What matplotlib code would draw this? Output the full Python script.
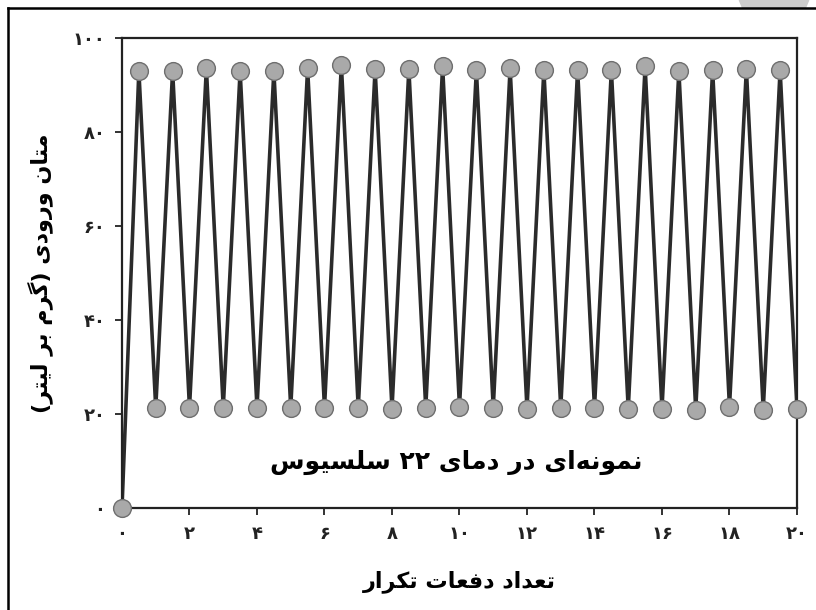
import matplotlib
matplotlib.use("Agg")
import matplotlib.pyplot as plt
from matplotlib.patches import Circle, Rectangle
from matplotlib.lines import Line2D

# data
x_vals = [i * 0.5 for i in range(41)]
peaks = [93.0, 93.0, 93.6, 93.0, 93.0, 93.6, 94.3, 93.4, 93.4, 94.0,
         93.2, 93.6, 93.2, 93.2, 93.2, 94.0, 93.0, 93.2, 93.4, 93.2]
troughs = [21.3, 21.3, 21.3, 21.3, 21.3, 21.3, 21.3, 21.1, 21.3, 21.5,
           21.3, 21.1, 21.3, 21.3, 21.1, 21.1, 20.9, 21.5, 20.9, 21.1]
y_vals = [0.0]
for p, t in zip(peaks, troughs):
    y_vals += [p, t]

x_ticks = [0, 2, 4, 6, 8, 10, 12, 14, 16, 18, 20]
y_ticks = [0, 20, 40, 60, 80, 100]
x_label = "تعداد دفعات تکرار"
y_label = "متان ورودی (گرم بر لیتر)"
note = "نمونه\u200cای در دمای ۲۲ سلسیوس"

# simple arabic/persian shaping, since matplotlib does not shape text
# letter: (isolated, final, initial, medial); two forms = right-joining only
FORMS = {
    'ا': ('\uFE8D', '\uFE8E'),
    'د': ('\uFEA9', '\uFEAA'),
    'ر': ('\uFEAD', '\uFEAE'),
    'و': ('\uFEED', '\uFEEE'),
    'ب': ('\uFE8F', '\uFE90', '\uFE91', '\uFE92'),
    'ت': ('\uFE95', '\uFE96', '\uFE97', '\uFE98'),
    'س': ('\uFEB1', '\uFEB2', '\uFEB3', '\uFEB4'),
    'ع': ('\uFEC9', '\uFECA', '\uFECB', '\uFECC'),
    'ف': ('\uFED1', '\uFED2', '\uFED3', '\uFED4'),
    'ل': ('\uFEDD', '\uFEDE', '\uFEDF', '\uFEE0'),
    'م': ('\uFEE1', '\uFEE2', '\uFEE3', '\uFEE4'),
    'ن': ('\uFEE5', '\uFEE6', '\uFEE7', '\uFEE8'),
    'ه': ('\uFEE9', '\uFEEA', '\uFEEB', '\uFEEC'),
    'ی': ('\uFBFC', '\uFBFD', '\uFBFE', '\uFBFF'),
    'ک': ('\uFB8E', '\uFB8F', '\uFB90', '\uFB91'),
    'گ': ('\uFB92', '\uFB93', '\uFB94', '\uFB95'),
}
MIRROR = {'(': ')', ')': '('}


def fa(s):
    out = []
    for i, c in enumerate(s):
        if c not in FORMS:
            if c != '\u200c':
                out.append(MIRROR.get(c, c))
            continue
        prev = s[i - 1] if i > 0 else ''
        nxt = s[i + 1] if i + 1 < len(s) else ''
        j_prev = prev in FORMS and len(FORMS[prev]) == 4
        j_next = len(FORMS[c]) == 4 and nxt in FORMS
        f = FORMS[c]
        if j_prev and j_next:
            out.append(f[3])
        elif j_prev:
            out.append(f[1])
        elif j_next:
            out.append(f[2])
        else:
            out.append(f[0])
    return ''.join(out[::-1])


def fa_num(n):
    return ''.join(chr(0x06F0 + int(d)) for d in str(n))


plt.rcParams['font.family'] = ['DejaVu Sans']

fig = plt.figure(figsize=(8.16, 6.10), dpi=100)
ax = fig.add_axes([0.1495, 0.1672, 0.8272, 0.7705])

ax.plot(x_vals, y_vals, color='#2b2b2b', lw=2.6, zorder=2)
ax.plot(x_vals, y_vals, ls='none', marker='o', ms=12.8,
        mfc='#a9a9a9', mec='#6e6e6e', mew=1.0, zorder=3, clip_on=False)

ax.set_xlim(0, 20)
ax.set_ylim(0, 100)
ax.set_xticks(x_ticks)
ax.set_xticklabels([fa_num(v) for v in x_ticks])
ax.set_yticks(y_ticks)
ax.set_yticklabels([fa_num(v) for v in y_ticks])
ax.tick_params(direction='out', length=5, width=1.3, labelsize=13,
               colors='#222222', pad=7)
for lab in ax.get_xticklabels() + ax.get_yticklabels():
    lab.set_fontweight('bold')
for sp in ax.spines.values():
    sp.set_linewidth(1.6)
    sp.set_color('#222222')

ax.set_xlabel(fa(x_label), fontsize=16, fontweight='bold', labelpad=20)
ax.set_ylabel(fa(y_label), fontsize=16, fontweight='bold', labelpad=14)
ax.text(9.9, 9.6, fa(note), fontsize=18, fontweight='bold',
        ha='center', va='center')

# frame lines and the grey blob at the top right of the screenshot
fig.add_artist(Line2D([8 / 816, 8 / 816], [0, 1 - 8 / 610],
                      transform=fig.transFigure, color='black', lw=1.8))
fig.add_artist(Line2D([8 / 816, 1], [1 - 8 / 610, 1 - 8 / 610],
                      transform=fig.transFigure, color='black', lw=1.8))
blob = Circle((774, 620), 36, transform=None, color='#cccccc', zorder=-1)
fig.add_artist(blob)
blob.set_clip_path(Rectangle((0, 602), 816, 20, transform=None))

fig.savefig('out.png', dpi=100)
